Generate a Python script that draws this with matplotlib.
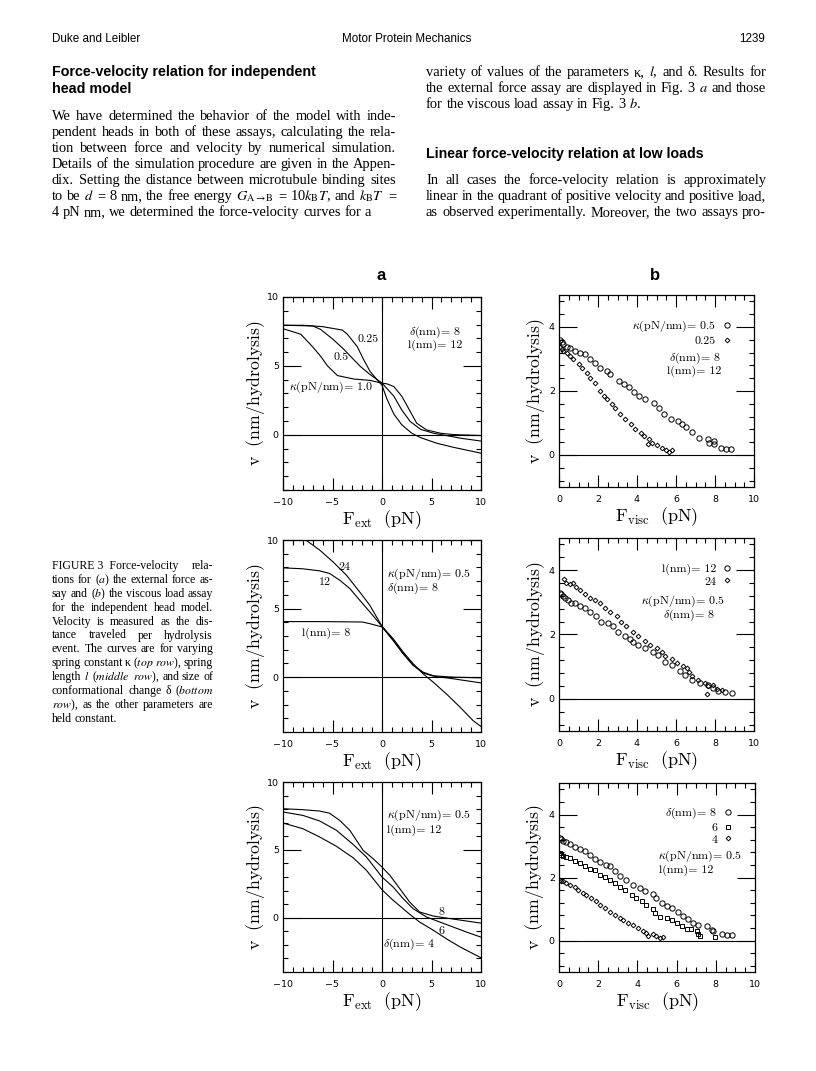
import matplotlib
matplotlib.use('Agg')
import matplotlib.pyplot as plt
from matplotlib.ticker import MultipleLocator
from matplotlib.font_manager import FontProperties

W, H = 816, 1071  # page size in pixels

# ---------------- data ----------------
# Fig 3a top row: spring constant kappa (delta=8, l=12)
k025_x = [-10, -8, -6, -4, -3.5, -2.5, -1.85, -1.2, -0.5, 0, 0.5, 1.2, 2.0, 3.0, 3.9, 5.5, 7.2, 10]
k025_y = [7.95, 7.95, 7.85, 7.6, 7.3, 6.4, 5.45, 4.6, 4.0, 3.6, 2.6, 1.5, 0.73, 0.12, -0.2, -0.6, -0.9, -1.33]
k05_x = [-10, -7, -6.2, -4.9, -3.85, -2.85, -2.2, -1.2, 0, 1.2, 2.0, 2.85, 3.9, 5.2, 6.5, 8, 10]
k05_y = [7.95, 7.9, 7.65, 6.9, 6.2, 5.45, 4.97, 4.37, 3.76, 2.8, 1.8, 0.97, 0.4, 0.12, -0.05, -0.25, -0.45]
k10_x = [-10, -8.2, -6.9, -6.2, -5.5, -4.5, -2.85, -1.2, -0.3, 0, 0.5, 1.2, 2.0, 2.85, 3.5, 4.5, 5.9, 7.2, 10]
k10_y = [7.7, 7.3, 6.3, 5.7, 5.0, 4.3, 4.05, 3.95, 3.8, 3.75, 3.7, 3.5, 2.8, 1.7, 0.85, 0.36, 0.12, 0.02, -0.05]

# Fig 3a middle row: spring length l (kappa=0.5, delta=8)
l24_x = [-7.7, -6.3, -4.94, -3.6, -2.24, -1.23, 0, 1.13, 2.14, 3.15, 4.16, 5.18, 6.5, 7.9, 9.2, 10]
l24_y = [10.0, 9.27, 8.4, 7.44, 6.2, 5.24, 3.7, 2.8, 1.83, 0.98, 0.24, -0.37, -1.22, -2.2, -3.17, -3.6]
l12_x = [-10, -8, -6.3, -5.3, -4.27, -3.25, -2.24, -1.23, 0, 1.13, 2.14, 3.15, 4.16, 5.2, 7.2, 10]
l12_y = [7.97, 7.9, 7.75, 7.56, 7.07, 6.46, 5.6, 4.76, 3.7, 2.68, 1.7, 0.85, 0.3, 0.07, -0.12, -0.42]
l8_x = [-10, -6, -2, -1.23, 0, 1.13, 2.14, 3.15, 4.16, 5.2, 7.2, 10]
l8_y = [4.05, 4.05, 4.02, 3.9, 3.66, 2.68, 1.72, 0.88, 0.36, 0.1, 0.0, -0.05]

# Fig 3a bottom row: conformational change delta (kappa=0.5, l=12)
d8_x = [-10, -8, -6.3, -5.3, -4.27, -3.25, -2.58, -1.9, -0.9, 0, 0.8, 1.8, 2.8, 3.8, 5.2, 7.2, 10]
d8_y = [8.03, 7.96, 7.86, 7.7, 7.17, 6.44, 5.7, 4.96, 4.35, 3.73, 3.12, 2.14, 1.15, 0.42, 0.12, -0.1, -0.4]
d6_x = [-10, -8, -6.3, -4.6, -2.92, -1.57, 0, 1.13, 2.14, 3.15, 4.5, 5.85, 7.2, 8.55, 10]
d6_y = [7.79, 7.54, 7.13, 6.44, 5.4, 4.47, 3.0, 2.26, 1.4, 0.66, 0.05, -0.32, -0.69, -1.06, -1.43]
d4_x = [-10, -8, -6.3, -4.6, -2.92, -1.57, 0, 1.13, 2.14, 2.8, 3.8, 5.2, 6.5, 7.9, 9.2, 10]
d4_y = [6.98, 6.56, 5.95, 5.26, 4.42, 3.49, 2.06, 1.28, 0.66, 0.25, -0.32, -0.93, -1.55, -2.16, -2.65, -2.95]

# Fig 3b top row: viscous load, kappa
vk05_x = [0.05, 0.14, 0.22, 0.4, 0.57, 0.83, 1.08, 1.34, 1.6, 1.86, 2.12, 2.46, 2.63, 3.06, 3.32, 3.58, 3.84, 4.1,
          4.39, 4.87, 5.13, 5.39, 5.73, 6.08, 6.33, 6.51, 6.8, 7.19, 7.62, 7.71, 7.97, 7.97, 8.31, 8.57, 8.83]
vk05_y = [3.58, 3.53, 3.46, 3.39, 3.33, 3.25, 3.2, 3.15, 2.99, 2.89, 2.73, 2.62, 2.52, 2.31, 2.21, 2.11, 1.97, 1.84,
          1.74, 1.64, 1.48, 1.27, 1.14, 1.06, 0.96, 0.88, 0.72, 0.54, 0.49, 0.39, 0.44, 0.33, 0.23, 0.2, 0.18]
vk025_x = [0.05, 0.14, 0.22, 0.4, 0.57, 0.74, 1.0, 1.17, 1.43, 1.6, 1.86, 2.12, 2.29, 2.46, 2.72, 2.89, 3.15, 3.41,
           3.67, 3.92, 4.18, 4.35, 4.58, 4.61, 4.78, 5.04, 5.3, 5.47, 5.65, 5.82]
vk025_y = [3.39, 3.3, 3.25, 3.18, 3.09, 3.01, 2.83, 2.73, 2.57, 2.42, 2.26, 2.0, 1.84, 1.74, 1.58, 1.48, 1.27, 1.11,
           0.96, 0.8, 0.7, 0.59, 0.35, 0.49, 0.39, 0.31, 0.23, 0.16, 0.09, 0.16]

# Fig 3b middle row: viscous load, l
vl12_x = [0.03, 0.12, 0.2, 0.29, 0.46, 0.63, 0.8, 1.06, 1.32, 1.58, 1.92, 2.17, 2.52, 2.77, 3.03, 3.37, 3.63, 3.8,
          4.06, 4.4, 4.83, 5.09, 5.43, 5.77, 6.2, 6.46, 6.8, 7.23, 7.65, 7.91, 8.17, 8.51, 8.85]
vl12_y = [3.28, 3.26, 3.2, 3.13, 3.07, 2.99, 2.97, 2.89, 2.81, 2.71, 2.56, 2.4, 2.35, 2.25, 2.09, 1.94, 1.87, 1.78,
          1.68, 1.58, 1.47, 1.37, 1.16, 1.04, 0.86, 0.75, 0.6, 0.49, 0.44, 0.34, 0.24, 0.21, 0.19]
vl24_x = [0.24, 0.38, 0.55, 0.72, 0.89, 1.06, 1.32, 1.58, 1.83, 2.09, 2.35, 2.6, 2.95, 3.2, 3.46, 3.8, 4.06, 4.4,
          4.66, 5.0, 5.26, 5.43, 5.77, 6.03, 6.37, 6.54, 6.68, 6.8, 7.14, 7.48, 7.57, 7.65, 7.91, 8.08, 8.34]
vl24_y = [3.71, 3.61, 3.56, 3.59, 3.48, 3.38, 3.26, 3.12, 3.07, 2.97, 2.81, 2.71, 2.56, 2.4, 2.27, 2.09, 1.96, 1.81,
          1.68, 1.58, 1.47, 1.32, 1.24, 1.11, 1.03, 0.96, 0.82, 0.7, 0.6, 0.49, 0.16, 0.39, 0.42, 0.31, 0.27]

# Fig 3b bottom row: viscous load, delta
vd8_x = [0.03, 0.12, 0.2, 0.37, 0.55, 0.8, 1.06, 1.31, 1.57, 1.82, 2.08, 2.42, 2.59, 2.85, 3.1, 3.44, 3.78, 4.12,
         4.38, 4.8, 4.97, 5.23, 5.49, 5.74, 6.08, 6.34, 6.59, 6.85, 7.1, 7.53, 7.79, 7.87, 8.3, 8.55, 8.81]
vd8_y = [3.26, 3.22, 3.17, 3.12, 3.05, 2.97, 2.91, 2.83, 2.73, 2.59, 2.48, 2.41, 2.36, 2.2, 2.04, 1.91, 1.77, 1.67,
         1.56, 1.49, 1.35, 1.19, 1.1, 1.03, 0.89, 0.79, 0.68, 0.57, 0.48, 0.45, 0.34, 0.29, 0.21, 0.18, 0.16]
vd6_x = [0.03, 0.12, 0.2, 0.37, 0.55, 0.8, 1.06, 1.31, 1.57, 1.82, 2.08, 2.33, 2.59, 2.85, 3.1, 3.36, 3.7, 3.95,
         4.21, 4.46, 4.8, 4.89, 5.14, 5.49, 5.74, 6.0, 6.25, 6.51, 6.76, 7.02, 7.1, 7.19, 7.96]
vd6_y = [2.78, 2.72, 2.69, 2.65, 2.62, 2.51, 2.46, 2.36, 2.27, 2.23, 2.09, 2.02, 1.93, 1.82, 1.7, 1.59, 1.45, 1.35,
         1.24, 1.14, 1.0, 0.87, 0.76, 0.71, 0.64, 0.55, 0.45, 0.36, 0.36, 0.29, 0.21, 0.13, 0.11]
vd4_x = [0.03, 0.12, 0.2, 0.37, 0.55, 0.8, 0.97, 1.23, 1.4, 1.65, 1.91, 2.08, 2.33, 2.59, 2.85, 3.1, 3.27, 3.53,
         3.78, 4.04, 4.29, 4.46, 4.55, 4.8, 4.97, 5.14, 5.32]
vd4_y = [1.93, 1.9, 1.88, 1.82, 1.77, 1.7, 1.61, 1.51, 1.45, 1.35, 1.24, 1.14, 1.03, 0.92, 0.82, 0.71, 0.66, 0.57,
         0.5, 0.39, 0.29, 0.23, 0.15, 0.21, 0.13, 0.07, 0.1]

# ---------------- page text ----------------
left_heading = ["Force-velocity relation for independent", "head model"]
left_para = [
    "We have determined the behavior of the model with inde-",
    "pendent heads in both of these assays, calculating the rela-",
    "tion between force and velocity by numerical simulation.",
    "Details of the simulation procedure are given in the Appen-",
    "dix. Setting the distance between microtubule binding sites",
    r"to be $d$ = 8 nm, the free energy $G_{\mathrm{A}\rightarrow\mathrm{B}}$ = 10$k_{\mathrm{B}}T$, and $k_{\mathrm{B}}T$ =",
    "4 pN nm, we determined the force-velocity curves for a",
]
right_para1 = [
    r"variety of values of the parameters κ, $l$, and δ. Results for",
    r"the external force assay are displayed in Fig. 3 $a$ and those",
    r"for the viscous load assay in Fig. 3 $b$.",
]
right_heading = "Linear force-velocity relation at low loads"
right_para2 = [
    "In all cases the force-velocity relation is approximately",
    "linear in the quadrant of positive velocity and positive load,",
    "as observed experimentally. Moreover, the two assays pro-",
]
caption = [
    "FIGURE\u00a03\u00a0\u00a0Force-velocity rela-",
    r"tions for ($a$) the external force as-",
    r"say and ($b$) the viscous load assay",
    "for the independent head model.",
    "Velocity is measured as the dis-",
    "tance traveled per hydrolysis",
    "event. The curves are for varying",
    r"spring constant κ ($\mathit{top}$ $\mathit{row}$), spring",
    r"length $l$ ($\mathit{middle}$ $\mathit{row}$), and size of",
    r"conformational change δ ($\mathit{bottom}$",
    r"$\mathit{row}$), as the other parameters are",
    "held constant.",
]

plt.rcParams['mathtext.fontset'] = 'cm'
plt.rcParams['font.family'] = ['DejaVu Sans']

fig = plt.figure(figsize=(W / 100, H / 100), dpi=100)
renderer = fig.canvas.get_renderer()


def put(x, y, s, size, family='Liberation Serif', weight='normal', ha='left'):
    return fig.text(x / W, 1 - y / H, s, fontsize=size, family=family, weight=weight,
                    ha=ha, va='baseline', math_fontfamily='stix')


def justify(x0, x1, y, line, size, last=False):
    words = line.split(' ')
    items = [put(x0, y, w, size) for w in words]
    widths = [t.get_window_extent(renderer).width for t in items]
    if last or len(items) == 1:
        gap = size * 100 / 72 * 0.25
    else:
        gap = (x1 - x0 - sum(widths)) / (len(items) - 1)
    x = x0
    for t, w in zip(items, widths):
        t.set_x(x / W)
        x += w + gap


# running header
put(52, 42, "Duke and Leibler", 8.4, family='Liberation Sans')
put(407, 42, "Motor Protein Mechanics", 8.4, family='Liberation Sans', ha='center')
put(765, 42, "1239", 8.4, family='Liberation Sans', ha='right')

body = 10.4
step = 16
LX0, LX1 = 52, 396
RX0, RX1 = 426, 766
base = 120

for i, s in enumerate(left_heading):
    put(LX0, 76 + 17 * i, s, 10.3, family='Liberation Sans', weight='bold')
for i, s in enumerate(left_para):
    justify(LX0, LX1, base + step * i, s, body, last=(i == len(left_para) - 1))
for i, s in enumerate(right_para1):
    justify(RX0, RX1, 76 + step * i, s, body, last=(i == len(right_para1) - 1))
put(RX0, 158, right_heading, 10.2, family='Liberation Sans', weight='bold')
for i, s in enumerate(right_para2):
    justify(RX0, RX1, base + step * (i + 4), s, body)

for i, s in enumerate(caption):
    justify(52, 213, 569 + 13.9 * i, s, 8.5, last=(i == len(caption) - 1))

# column letters
put(381, 280, "a", 12, family='Liberation Sans', weight='bold', ha='center')
put(655, 280, "b", 12, family='Liberation Sans', weight='bold', ha='center')


# ---------------- axes ----------------
def make_axes(l, t, r, b):
    return fig.add_axes([l / W, 1 - b / H, (r - l) / W, (b - t) / H])


def style(ax, kind):
    if kind == 'a':
        ax.set_xlim(-10, 10)
        ax.set_ylim(-4, 10)
        ax.xaxis.set_major_locator(MultipleLocator(5))
        ax.xaxis.set_minor_locator(MultipleLocator(1))
        ax.yaxis.set_major_locator(MultipleLocator(5))
        ax.yaxis.set_minor_locator(MultipleLocator(1))
        ax.axvline(0, color='k', lw=0.8)
        xlab = r'$\mathrm{F_{ext}\ \ (pN)}$'
        off = -0.141
    else:
        ax.set_xlim(0, 10)
        ax.set_ylim(-1, 5)
        ax.xaxis.set_major_locator(MultipleLocator(2))
        ax.xaxis.set_minor_locator(MultipleLocator(0.5))
        ax.yaxis.set_major_locator(MultipleLocator(2))
        ax.yaxis.set_minor_locator(MultipleLocator(0.4))
        xlab = r'$\mathrm{F_{visc}\ \ (pN)}$'
        off = -0.123
    ax.axhline(0, color='k', lw=0.8)
    ax.tick_params(which='both', direction='in', top=True, right=True, width=0.8, labelsize=6.8)
    ax.tick_params(axis='x', which='major', length=8.5, pad=6)
    ax.tick_params(axis='y', which='major', length=13, pad=3)
    ax.tick_params(which='minor', length=3.5)
    for sp in ax.spines.values():
        sp.set_linewidth(0.9)
    ax.text(off, 0.5, r'$\mathrm{v\ \ (nm/hydrolysis)}$', rotation=90, fontsize=12.8,
            ha='center', va='center', transform=ax.transAxes)
    ax.text(0.5, -0.155, xlab, fontsize=13, ha='center', va='center', transform=ax.transAxes)


cm = dict(family='cmr10', fontsize=8.6, va='center')
line = dict(color='k', lw=0.8)
circ = dict(ls='none', marker='o', ms=3.8, mfc='none', mec='k', mew=0.7)
diam = dict(ls='none', marker='D', ms=2.4, mfc='none', mec='k', mew=0.7)
sq = dict(ls='none', marker='s', ms=3.2, mfc='none', mec='k', mew=0.7)
leg_font = FontProperties(family='cmr10', size=8.6)


def legend(ax, x, y):
    ax.legend(loc='upper right', bbox_to_anchor=(x, y), frameon=False, markerfirst=False,
              prop=leg_font, handlelength=0.8, handletextpad=0.5, labelspacing=0.1,
              borderpad=0, borderaxespad=0, numpoints=1)


# top row
ax = make_axes(283, 297, 481, 490)
style(ax, 'a')
ax.plot(k025_x, k025_y, **line)
ax.plot(k05_x, k05_y, **line)
ax.plot(k10_x, k10_y, **line)
ax.text(-2.52, 6.92, '0.25', **cm)
ax.text(-4.93, 5.66, '0.5', **cm)
ax.text(-9.4, 3.45, r'$\kappa$(pN/nm)= 1.0', **cm)
ax.text(2.68, 7.47, r'$\delta$(nm)= 8', **cm)
ax.text(2.58, 6.46, 'l(nm)= 12', **cm)

ax = make_axes(559, 295, 754, 487)
style(ax, 'b')
ax.plot(vk05_x, vk05_y, label=r'$\kappa$(pN/nm)= 0.5', **circ)
ax.plot(vk025_x, vk025_y, label='0.25', **diam)
legend(ax, 0.885, 0.875)
ax.text(5.65, 3.03, r'$\delta$(nm)= 8', **cm)
ax.text(5.56, 2.6, 'l(nm)= 12', **cm)

# middle row
ax = make_axes(283, 540, 481, 732)
style(ax, 'a')
ax.plot(l24_x, l24_y, **line)
ax.plot(l12_x, l12_y, **line)
ax.plot(l8_x, l8_y, **line)
ax.text(-4.43, 8.05, '24', **cm)
ax.text(-6.36, 6.95, '12', **cm)
ax.text(0.46, 7.51, r'$\kappa$(pN/nm)= 0.5', **cm)
ax.text(0.46, 6.44, r'$\delta$(nm)= 8', **cm)
ax.text(-8.04, 3.17, 'l(nm)= 8', **cm)

ax = make_axes(559, 538, 754, 731)
style(ax, 'b')
ax.plot(vl12_x, vl12_y, label='l(nm)= 12', **circ)
ax.plot(vl24_x, vl24_y, label='24', **diam)
legend(ax, 0.888, 0.868)
ax.text(4.23, 3.04, r'$\kappa$(pN/nm)= 0.5', **cm)
ax.text(5.34, 2.61, r'$\delta$(nm)= 8', **cm)

# bottom row
ax = make_axes(283, 782, 481, 972)
style(ax, 'a')
ax.plot(d8_x, d8_y, **line)
ax.plot(d6_x, d6_y, **line)
ax.plot(d4_x, d4_y, **line)
ax.text(0.46, 7.51, r'$\kappa$(pN/nm)= 0.5', **cm)
ax.text(0.46, 6.42, 'l(nm)= 12', **cm)
ax.text(5.68, 0.42, '8', **cm)
ax.text(5.68, -0.98, '6', **cm)
ax.text(0.12, -1.97, r'$\delta$(nm)= 4', **cm)

ax = make_axes(559, 783, 755, 972)
style(ax, 'b')
ax.plot(vd8_x, vd8_y, label=r'$\delta$(nm)= 8', **circ)
ax.plot(vd6_x, vd6_y, label='6', **sq)
ax.plot(vd4_x, vd4_y, label='4', **diam)
legend(ax, 0.887, 0.878)
ax.text(5.06, 2.66, r'$\kappa$(pN/nm)= 0.5', **cm)
ax.text(5.1, 2.22, 'l(nm)= 12', **cm)

fig.savefig('out.png', dpi=100)
